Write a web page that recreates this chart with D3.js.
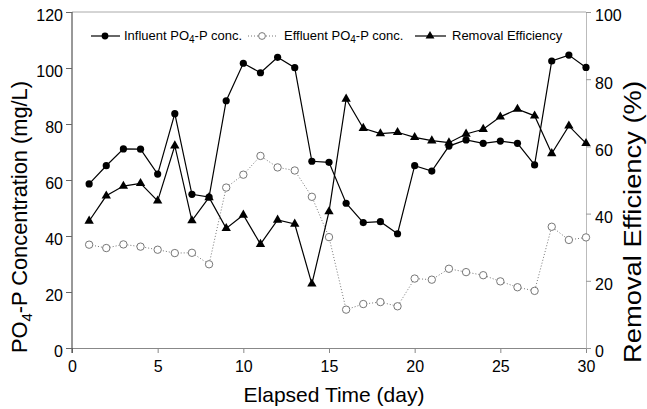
<!DOCTYPE html>
<html>
<head>
<meta charset="utf-8">
<script src="https://cdn.jsdelivr.net/npm/d3@7"></script>
<style>
  html, body { margin: 0; padding: 0; background: #fff; }
  svg { display: block; font-family: "Liberation Sans", Arial, Helvetica, sans-serif; }
</style>
</head>
<body>
<svg id="chart" width="647" height="409"></svg>
<script>
const days = d3.range(1, 31);
const influent = [58.6, 65.1, 71.1, 71.0, 62.1, 83.7, 54.9, 53.9, 88.3, 101.7,
                  98.3, 103.8, 100.1, 66.7, 66.3, 51.7, 44.8, 45.1, 40.8, 65.1,
                  63.2, 72.1, 74.3, 73.1, 73.9, 73.1, 65.4, 102.5, 104.6, 100.2];
const effluent = [36.9, 35.7, 37.0, 36.2, 35.1, 33.9, 34.0, 29.9, 57.3, 61.9,
                  68.6, 64.5, 63.4, 54.0, 39.6, 13.7, 15.7, 16.4, 14.9, 24.8,
                  24.4, 28.3, 27.1, 26.0, 23.8, 21.7, 20.4, 43.3, 38.6, 39.5];
const removal = [37.8, 45.3, 48.2, 49.0, 43.8, 60.2, 37.9, 44.8, 35.6, 39.6,
                 30.9, 38.1, 36.9, 19.1, 40.6, 74.1, 65.4, 63.8, 64.2, 62.7,
                 61.7, 61.1, 63.7, 65.1, 68.8, 71.1, 69.1, 57.9, 66.1, 60.9];
const xTicks = [0, 5, 10, 15, 20, 25, 30];
const yLeftTicks = [0, 20, 40, 60, 80, 100, 120];
const yRightTicks = [0, 20, 40, 60, 80, 100];

const svg = d3.select("#chart");
const L = 72, R = 586, T = 12, B = 348;

const x = d3.scaleLinear().domain([0, 30]).range([L, R]);
const yL = d3.scaleLinear().domain([0, 120]).range([B, T]);
const yR = d3.scaleLinear().domain([0, 100]).range([B, T]);

// top border
svg.append("line").attr("x1", L).attr("x2", R).attr("y1", T).attr("y2", T)
  .attr("stroke", "#aaa").attr("stroke-width", 1);

// bottom axis
const gx = svg.append("g").attr("transform", `translate(0,${B})`)
  .call(d3.axisBottom(x).tickValues(xTicks).tickSize(5).tickPadding(8).tickSizeOuter(0));
gx.select(".domain").attr("stroke", "#888");
gx.selectAll(".tick line").attr("stroke", "#888");
gx.selectAll(".tick text").attr("font-size", 16).attr("fill", "#000")
  .attr("font-family", "Liberation Sans, Arial, sans-serif");

// right axis
const gr = svg.append("g").attr("transform", `translate(${R},0)`)
  .call(d3.axisRight(yR).tickValues(yRightTicks).tickSize(5).tickPadding(4).tickSizeOuter(0));
gr.select(".domain").attr("stroke", "#bbb");
gr.selectAll(".tick line").attr("stroke", "#999");
gr.selectAll(".tick text").attr("font-size", 16).attr("fill", "#000").attr("dy", "0.55em")
  .attr("font-family", "Liberation Sans, Arial, sans-serif");

// left axis
const gl = svg.append("g").attr("transform", `translate(${L},0)`)
  .call(d3.axisLeft(yL).tickValues(yLeftTicks).tickSize(6).tickPadding(3).tickSizeOuter(0));
gl.select(".domain").attr("stroke", "#333").attr("d", `M0,${T}V${B + 5}`);
gl.selectAll(".tick line").attr("stroke", "#666");
gl.selectAll(".tick text").attr("font-size", 16).attr("fill", "#000").attr("dy", "0.55em")
  .attr("font-family", "Liberation Sans, Arial, sans-serif");

// axis titles
svg.append("text").attr("x", 334).attr("y", 402).attr("text-anchor", "middle")
  .attr("font-size", 21).text("Elapsed Time (day)");

const lt = svg.append("text").attr("transform", "translate(27,217) rotate(-90)")
  .attr("text-anchor", "middle").attr("font-size", 22)
  .attr("textLength", 272).attr("lengthAdjust", "spacingAndGlyphs");
lt.append("tspan").text("PO");
lt.append("tspan").attr("font-size", 15).attr("dy", 5).text("4");
lt.append("tspan").attr("dy", -5).text("-P Concentration (mg/L)");

svg.append("text").attr("transform", "translate(641,222) rotate(-90)")
  .attr("text-anchor", "middle").attr("font-size", 23)
  .attr("textLength", 282).attr("lengthAdjust", "spacingAndGlyphs")
  .text("Removal Efficiency (%)");

// line generators
const lineL = d3.line().x((d, i) => x(days[i])).y(d => yL(d));
const lineR = d3.line().x((d, i) => x(days[i])).y(d => yR(d));

// effluent dotted
svg.append("path").datum(effluent).attr("d", lineL).attr("fill", "none")
  .attr("stroke", "#777").attr("stroke-width", 1).attr("stroke-dasharray", "1,2");
// influent
svg.append("path").datum(influent).attr("d", lineL).attr("fill", "none")
  .attr("stroke", "#000").attr("stroke-width", 1.2);
// removal
svg.append("path").datum(removal).attr("d", lineR).attr("fill", "none")
  .attr("stroke", "#000").attr("stroke-width", 1.2);

const tri = d3.symbol().type(d3.symbolTriangle).size(38);

svg.append("g").selectAll("circle").data(effluent).join("circle")
  .attr("cx", (d, i) => x(days[i])).attr("cy", d => yL(d)).attr("r", 3.7)
  .attr("fill", "#fff").attr("stroke", "#777").attr("stroke-width", 1);
svg.append("g").selectAll("circle").data(influent).join("circle")
  .attr("cx", (d, i) => x(days[i])).attr("cy", d => yL(d)).attr("r", 3.6)
  .attr("fill", "#000");
svg.append("g").selectAll("path").data(removal).join("path")
  .attr("d", tri).attr("transform", (d, i) => `translate(${x(days[i])},${yR(d)})`)
  .attr("fill", "#000");

// legend
const lg = svg.append("g").attr("font-size", 13);
// item 1
lg.append("line").attr("x1", 91).attr("x2", 120).attr("y1", 36).attr("y2", 36)
  .attr("stroke", "#000").attr("stroke-width", 1.2);
lg.append("circle").attr("cx", 105).attr("cy", 36).attr("r", 3.4).attr("fill", "#000");
const t1 = lg.append("text").attr("x", 124).attr("y", 40);
t1.append("tspan").text("Influent PO");
t1.append("tspan").attr("font-size", 10).attr("dy", 3).text("4");
t1.append("tspan").attr("dy", -3).text("-P conc.");
// item 2
lg.append("line").attr("x1", 248).attr("x2", 277).attr("y1", 36).attr("y2", 36)
  .attr("stroke", "#777").attr("stroke-width", 1).attr("stroke-dasharray", "1,2");
lg.append("circle").attr("cx", 262).attr("cy", 36).attr("r", 3.4)
  .attr("fill", "#fff").attr("stroke", "#777");
const t2 = lg.append("text").attr("x", 284).attr("y", 40);
t2.append("tspan").text("Effluent PO");
t2.append("tspan").attr("font-size", 10).attr("dy", 3).text("4");
t2.append("tspan").attr("dy", -3).text("-P conc.");
// item 3
lg.append("line").attr("x1", 415).attr("x2", 446).attr("y1", 36).attr("y2", 36)
  .attr("stroke", "#000").attr("stroke-width", 1.2);
lg.append("path").attr("d", d3.symbol().type(d3.symbolTriangle).size(34))
  .attr("transform", "translate(430,36)").attr("fill", "#000");
lg.append("text").attr("x", 452).attr("y", 40).text("Removal Efficiency");
</script>
</body>
</html>
